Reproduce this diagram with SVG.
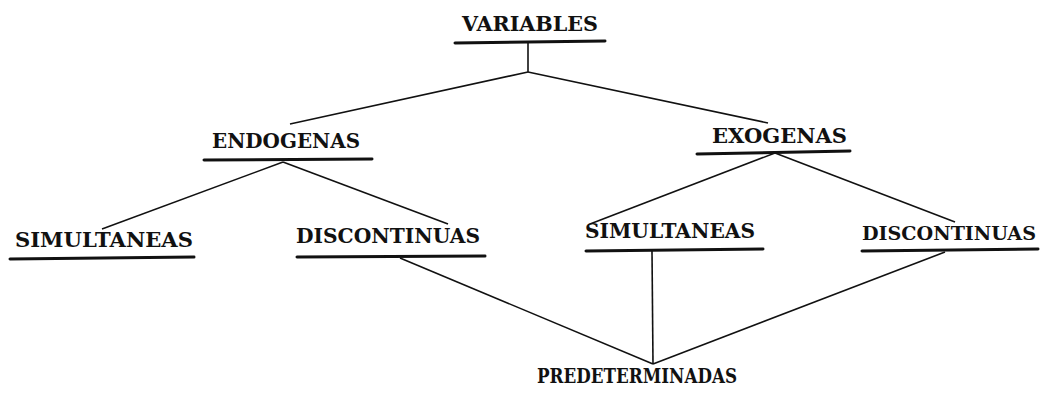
<svg xmlns="http://www.w3.org/2000/svg" width="1042" height="393" viewBox="0 0 1042 393">
<style>
.t{font-family:"DejaVu Serif","Liberation Serif",serif;font-weight:bold;font-size:20px;fill:#111}
.u{stroke:#111;stroke-width:3;stroke-linecap:round;fill:none}
.c{stroke:#111;stroke-width:1.6;fill:none}
</style>
<rect width="1042" height="393" fill="#fff"/>
<g id="connectors">
<polyline class="c" points="528,42 528,72"/>
<line class="c" x1="528" y1="72" x2="290" y2="124"/>
<line class="c" x1="528" y1="72" x2="768" y2="123"/>
<line class="c" x1="283" y1="162" x2="102" y2="229"/>
<line class="c" x1="283" y1="162" x2="448" y2="224"/>
<line class="c" x1="775" y1="153" x2="590" y2="224"/>
<line class="c" x1="775" y1="153" x2="955" y2="222"/>
<line class="c" x1="400" y1="258" x2="653" y2="364"/>
<line class="c" x1="652" y1="251" x2="653" y2="364"/>
<line class="c" x1="945" y1="252" x2="653" y2="364"/>
</g>
<g id="variables">
<text class="t" x="462" y="31" textLength="136" lengthAdjust="spacingAndGlyphs">VARIABLES</text>
<line class="u" x1="455" y1="43" x2="605" y2="41"/>
</g>
<g id="endogenas">
<text class="t" x="212" y="148" textLength="148" lengthAdjust="spacingAndGlyphs">ENDOGENAS</text>
<line class="u" x1="204" y1="160" x2="372" y2="159"/>
</g>
<g id="exogenas">
<text class="t" x="712" y="143" textLength="135" lengthAdjust="spacingAndGlyphs">EXOGENAS</text>
<line class="u" x1="697" y1="154" x2="850" y2="151"/>
</g>
<g id="simultaneas-endo">
<text class="t" x="15" y="247" textLength="178" lengthAdjust="spacingAndGlyphs">SIMULTANEAS</text>
<line class="u" x1="10" y1="259" x2="194" y2="257"/>
</g>
<g id="discontinuas-endo">
<text class="t" x="296" y="243" textLength="184" lengthAdjust="spacingAndGlyphs">DISCONTINUAS</text>
<line class="u" x1="297" y1="257" x2="485" y2="256"/>
</g>
<g id="simultaneas-exo">
<text class="t" x="585" y="238" textLength="170" lengthAdjust="spacingAndGlyphs">SIMULTANEAS</text>
<line class="u" x1="586" y1="251" x2="763" y2="249"/>
</g>
<g id="discontinuas-exo">
<text class="t" x="862" y="240" style="font-size:18px" textLength="174" lengthAdjust="spacingAndGlyphs">DISCONTINUAS</text>
<line class="u" x1="862" y1="251" x2="1038" y2="249"/>
</g>
<g id="predeterminadas">
<text class="t" x="537" y="383" textLength="200" lengthAdjust="spacingAndGlyphs">PREDETERMINADAS</text>
</g>
</svg>
